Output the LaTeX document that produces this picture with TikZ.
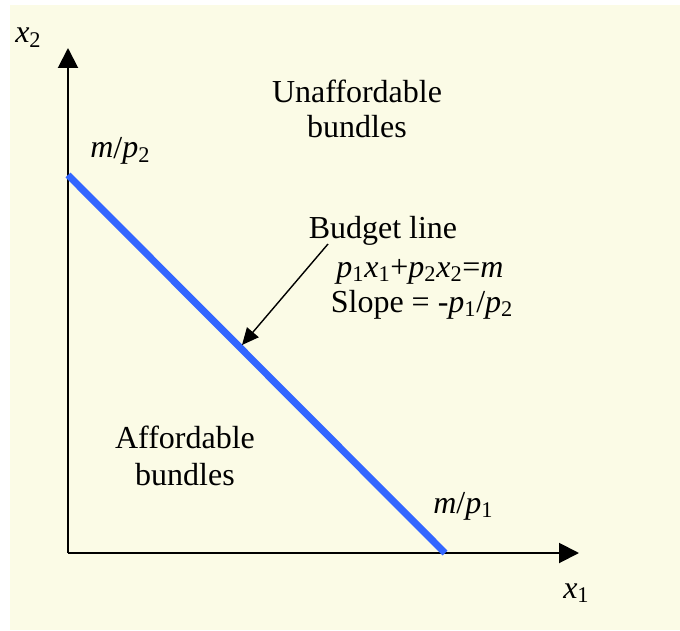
\documentclass[tikz,border=0pt]{standalone}
\usepackage{fontspec}
\setmainfont{Liberation Serif}
\usepackage{tikz}
\usetikzlibrary{arrows.meta,positioning}
\definecolor{paper}{HTML}{FBFBE6}
\definecolor{budgetBlue}{HTML}{3366FF}

\begin{document}
\begin{tikzpicture}[every node/.style={font=\fontsize{22.76}{25.6}\selectfont, inner sep=0pt},
    axis/.style={line width=1.4pt, -{Triangle[length=0.5cm, width=0.5cm]}}]
    \useasboundingbox (-1.7,-1.925) rectangle (15.3,13.825);
    \fill[paper] (-1.45,-1.925) rectangle (15.3,13.7);
    % axes
    \coordinate (O) at (0,0);
    \coordinate (ytip) at (0,12.625);
    \coordinate (xtip) at (12.775,0);
    \draw[axis] (O) -- (ytip);
    \draw[axis] (O) -- (xtip);
    \node[anchor=base west] (xtwo) at (-1.325,12.75) {\textit{x}\textsubscript{2}};
    \node[anchor=base west] (xone) at (12.375,-1.125) {\textit{x}\textsubscript{1}};
    % budget line
    \coordinate (mptwo) at (0,9.45);
    \coordinate (mpone) at (9.425,0);
    \draw[line width=5pt, budgetBlue] (mptwo) -- (mpone);
    \node[anchor=base west] (labtwo) at (0.55,9.875) {\textit{m}/\textit{p}\textsubscript{2}};
    \node[anchor=base west] (labone) at (9.125,1.0) {\textit{m}/\textit{p}\textsubscript{1}};
    % regions
    \node[align=center, font=\fontsize{22.76}{24.9}\selectfont] (unaff) at (7.225,11.1) {Unaffordable\\bundles};
    \node[align=center, font=\fontsize{22.76}{26.3}\selectfont] (aff) at (2.925,2.43) {Affordable\\bundles};
    % budget line label
    \node[anchor=base] (budget) at (7.875,7.85) {Budget line};
    \node[anchor=base] (eqn) at (8.8,6.9) {\textit{p}\textsubscript{1}\textit{x}\textsubscript{1}+\textit{p}\textsubscript{2}\textit{x}\textsubscript{2}=\textit{m}};
    \node[anchor=base] (slope) at (8.85,6.025) {Slope = -\textit{p}\textsubscript{1}/\textit{p}\textsubscript{2}};
    \coordinate (ptrtail) at (6.5,7.725);
    \coordinate (ptrhead) at (4.35,5.2);
    \draw[line width=1pt, -{Triangle[length=0.42cm, width=0.38cm]}] (ptrtail) -- (ptrhead);
  \end{tikzpicture}
\end{document}
